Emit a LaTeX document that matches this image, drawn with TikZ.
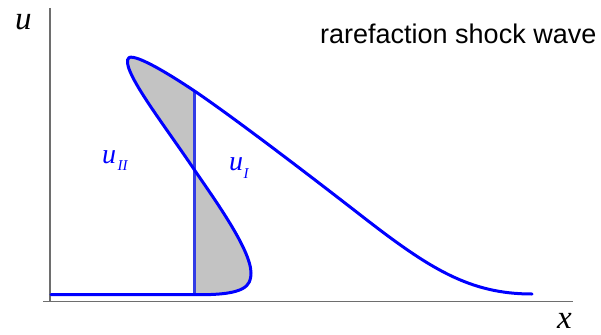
\documentclass[tikz,border=0pt]{standalone}
\usepackage{fontspec}
\setmainfont{Liberation Serif}
\newfontfamily\arialf{Liberation Sans}
\definecolor{axisgray}{RGB}{110,110,110}
\definecolor{shadegray}{RGB}{195,195,195}
\definecolor{shockblue}{RGB}{50,60,230}
\begin{document}
\begin{tikzpicture}[x=1pt,y=-1pt,
  axisline/.style={axisgray, line width=1.3pt},
  wavecurve/.style={blue, line width=3pt, line join=round, line cap=round},
  shockline/.style={shockblue, line width=2.2pt},
  lbl/.style={inner sep=0pt, anchor=base west}]
\useasboundingbox (0,0) rectangle (601,334);
% key points
\coordinate (start) at (51,294.7);
\coordinate (flatend) at (200,294.7);
\coordinate (lobe) at (251,273);
\coordinate (cross) at (194.5,170);
\coordinate (tip) at (127.5,60);
\coordinate (shocktop) at (194.5,91);
\coordinate (shockbot) at (194.5,294.7);
\coordinate (mid) at (363,217);
\coordinate (tail) at (532,294);
\coordinate (origin) at (50,301.7);
\coordinate (ytop) at (50,8);
\coordinate (xend) at (573,301.7);
\coordinate (xstart) at (43,301.7);
% shaded areas
\fill[shadegray] (shockbot) -- (flatend)
  .. controls (245,294.7) and (251,286) .. (lobe)
  .. controls (251,250) and (215,200) .. (cross)
  .. controls (165,126) and (125,75) .. (tip)
  .. controls (128,50) and (160,68) .. (shocktop) -- cycle;
% axes
\draw[axisline] (ytop) -- (origin);
\draw[axisline] (xstart) -- (xend);
% shock
\draw[shockline] (shocktop) -- (shockbot);
% wave curve
\draw[wavecurve] (start) -- (flatend)
  .. controls (245,294.7) and (251,286) .. (lobe)
  .. controls (251,250) and (215,200) .. (cross)
  .. controls (165,126) and (125,75) .. (tip)
  .. controls (128,50) and (160,68) .. (shocktop)
  .. controls (230,115) and (300,168) .. (mid)
  .. controls (430,269) and (470,294) .. (tail);
% labels
\node[lbl] (ulabel) at (15,30) {\fontsize{33}{33}\selectfont\itshape u};
\node[lbl] (xlabel) at (557,328) {\fontsize{33}{33}\selectfont\itshape x};
\node[lbl] (title) at (320,43.3) {\arialf\fontsize{27}{27}\selectfont rarefaction shock wave};
\node[lbl, text=blue] (uII) at (102,163) {\fontsize{28}{28}\selectfont\itshape u};
\node[lbl, text=blue] (uIIsub) at (117.5,170) {\fontsize{15}{15}\selectfont\itshape II};
\node[lbl, text=blue] (uI) at (229,170) {\fontsize{28}{28}\selectfont\itshape u};
\node[lbl, text=blue] (uIsub) at (243.5,178) {\fontsize{15}{15}\selectfont\itshape I};
\end{tikzpicture}
\end{document}
